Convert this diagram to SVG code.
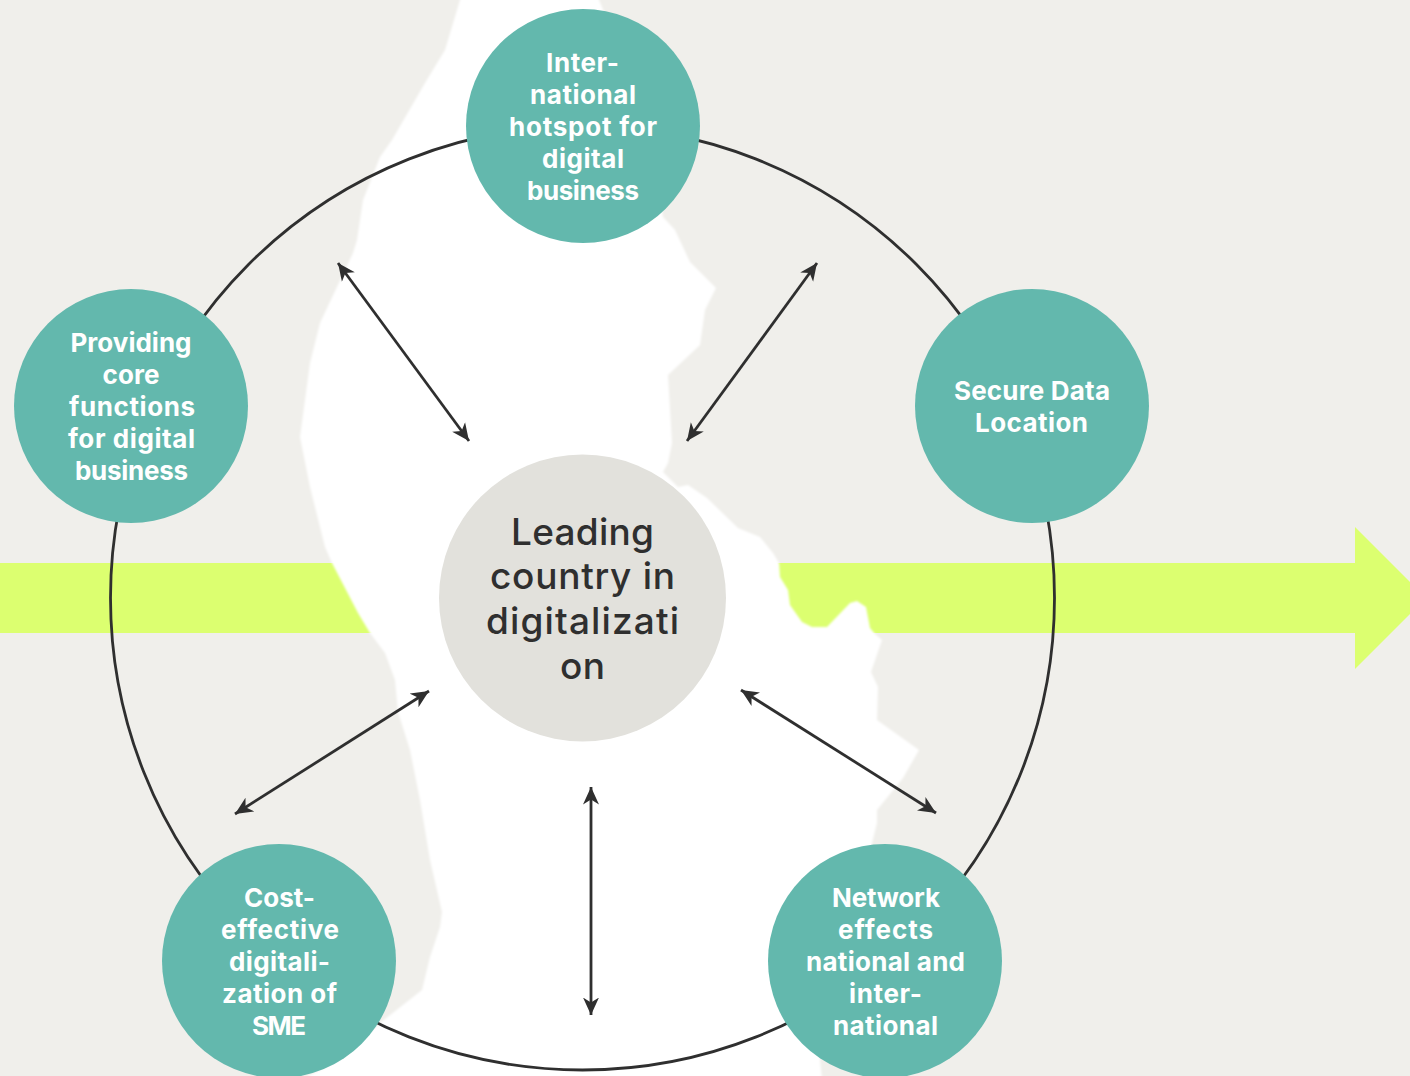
<svg xmlns="http://www.w3.org/2000/svg" width="1410" height="1076" viewBox="0 0 1410 1076">
<style>
.ring{fill:none;stroke:#2f2f2f;stroke-width:2.8}
.arr{fill:none;stroke:#2f2f2f;stroke-width:2.8;marker-start:url(#h);marker-end:url(#h)}
.n{fill:#63b8ad}
.t{font-family:"Inter","Liberation Sans",sans-serif;font-weight:700;font-size:26px;fill:#fff;text-anchor:middle}
.c{font-family:"Inter","Liberation Sans",sans-serif;font-weight:500;font-size:37px;fill:#2f2f2f;text-anchor:middle}
</style>
<defs>
<marker id="h" viewBox="0 0 18 18" refX="17.500" refY="9" markerWidth="18" markerHeight="18" markerUnits="userSpaceOnUse" orient="auto-start-reverse">
<path d="M0 1L17.500 9L0 17L5 9Z" fill="#2f2f2f"/>
</marker>
<filter id="soft" x="-5%" y="-5%" width="110%" height="110%"><feGaussianBlur stdDeviation="0.8"/></filter>
</defs>
<rect id="background" width="1410" height="1076" fill="#f0efeb"/>
<path id="band" d="M0 563H1355V527L1426 598L1355 669V633H0Z" fill="#dcff70"/>
<path id="map" fill="#fff" filter="url(#soft)" d="M462 -5L460 0L445 50L425 83L392 140L380 157L367 190L363 200L357 240L353 253L320 323L310 363L300 437L310 487L325 547L332 563L358 613L370 633L385 653L395 680L398 712L410 750L420 800L430 860L442 912L440 927L430 957L422 990L380 1023L340 1060L300 1080H822L820 1060L860 900L872 843L877 823L877 810L903 778L919 750L877 720L878 687L871 672L882 640L875 634L870 628L866 607L857 601L850 603L827 627L812 627L802 622L790 605L788 590L780 577L779 563L773 553L760 537L738 528L707 498L688 485L678 487L663 472L668 463L672 443L668 375L700 345L705 310L716 288L690 262L675 230L663 217L640 100L597 -5Z"/>
<g id="connectors">
<circle class="ring" cx="582.500" cy="598" r="472"/>
<path class="arr" d="M338 263L469 441"/>
<path class="arr" d="M817 263L687 441"/>
<path class="arr" d="M429 691L235 814"/>
<path class="arr" d="M741 690L936 813"/>
<path class="arr" d="M591 787V1015"/>
</g>
<g id="center"><circle cx="582.500" cy="598" r="143.500" fill="#e2e1dc"/>
<text class="c" x="582.500" y="544.500" textLength="143">Leading</text>
<text class="c" x="582.500" y="588.500" textLength="185">country in</text>
<text class="c" x="582.500" y="633.500" textLength="193">digitalizati</text>
<text class="c" x="582.500" y="678.500" textLength="45">on</text></g>
<g id="node-top"><circle class="n" cx="583" cy="126" r="117"/>
<text class="t" x="582.500" y="72" textLength="73">Inter-</text>
<text class="t" x="583" y="104" textLength="106">national</text>
<text class="t" x="583" y="136" textLength="148">hotspot for</text>
<text class="t" x="583" y="168" textLength="82">digital</text>
<text class="t" x="583" y="200" textLength="112">business</text></g>
<g id="node-left"><circle class="n" cx="131" cy="406" r="117"/>
<text class="t" x="131" y="352" textLength="121">Providing</text>
<text class="t" x="131" y="384" textLength="57">core</text>
<text class="t" x="132" y="416" textLength="126">functions</text>
<text class="t" x="131.500" y="448" textLength="127">for digital</text>
<text class="t" x="131.500" y="480" textLength="113">business</text></g>
<g id="node-right"><circle class="n" cx="1032" cy="406" r="117"/>
<text class="t" x="1032" y="400" textLength="156">Secure Data</text>
<text class="t" x="1031.500" y="432" textLength="113">Location</text></g>
<g id="node-bl"><circle class="n" cx="279" cy="961" r="117"/>
<text class="t" x="279.500" y="907" textLength="71">Cost-</text>
<text class="t" x="280" y="939" textLength="118">effective</text>
<text class="t" x="279.500" y="971" textLength="101">digitali-</text>
<text class="t" x="279.500" y="1003" textLength="115">zation of</text>
<text class="t" x="279" y="1035" textLength="54">SME</text></g>
<g id="node-br"><circle class="n" cx="885" cy="961" r="117"/>
<text class="t" x="886" y="907" textLength="108">Network</text>
<text class="t" x="885.500" y="939" textLength="95">effects</text>
<text class="t" x="885.500" y="971" textLength="159">national and</text>
<text class="t" x="885.500" y="1003" textLength="73">inter-</text>
<text class="t" x="885.500" y="1035" textLength="105">national</text></g>
</svg>
